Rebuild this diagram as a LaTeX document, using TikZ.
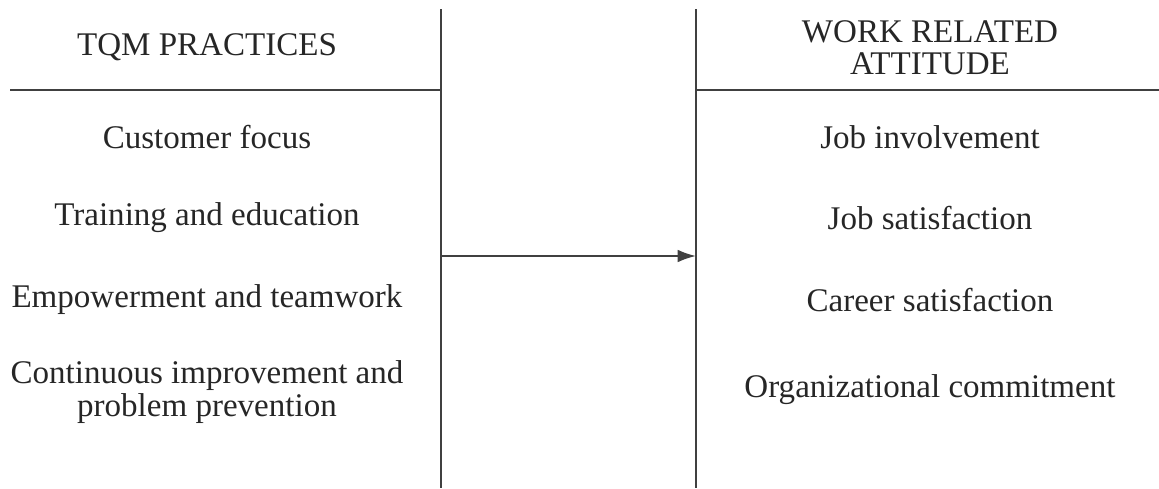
\documentclass[tikz,border=0pt]{standalone}
\usepackage{fontspec}
\setmainfont{Liberation Serif}
\usetikzlibrary{arrows.meta}
\tikzset{
  item/.style={align=center, font=\fontsize{23.5}{23}\selectfont, text=black!85, inner sep=0pt},
  rule/.style={draw=black!75, line width=1.4pt}
}
\begin{document}
\begin{tikzpicture}[x=0.025cm, y=-0.025cm]
  \useasboundingbox (0,0) rectangle (1159,488);
  % Frame points
  \coordinate (lt) at (441,9);
  \coordinate (lb) at (441,488);
  \coordinate (rt) at (696,9);
  \coordinate (rb) at (696,488);
  \coordinate (lh) at (10,90);
  \coordinate (lm) at (441,90);
  \coordinate (rm) at (696,90);
  \coordinate (rh) at (1159,90);
  \coordinate (a1) at (441,256);
  \coordinate (a2) at (696,256);

  % Nodes
  \node[item] (tqm) at (207,47) {TQM PRACTICES};
  \node[item] (wra) at (930,48) {WORK RELATED\\ATTITUDE};
  \foreach \y/\name/\txt in {137/cf/Customer focus, 218/te/Training and education,
      300/et/Empowerment and teamwork, 392/ci/Continuous improvement and\\problem prevention}
    \node[item] (\name) at (207,\y) {\txt};
  \foreach \y/\name/\txt in {137/ji/Job involvement, 218/js/Job satisfaction,
      300/cs/Career satisfaction, 390/oc/Organizational commitment}
    \node[item] (\name) at (930,\y) {\txt};

  % Edges
  \draw[rule] (lt) -- (lb);
  \draw[rule] (rt) -- (rb);
  \draw[rule] (lh) -- (lm);
  \draw[rule] (rm) -- (rh);
  \draw[rule, -{Latex[length=13pt, width=9pt]}] (a1) -- (a2);
\end{tikzpicture}
\end{document}
